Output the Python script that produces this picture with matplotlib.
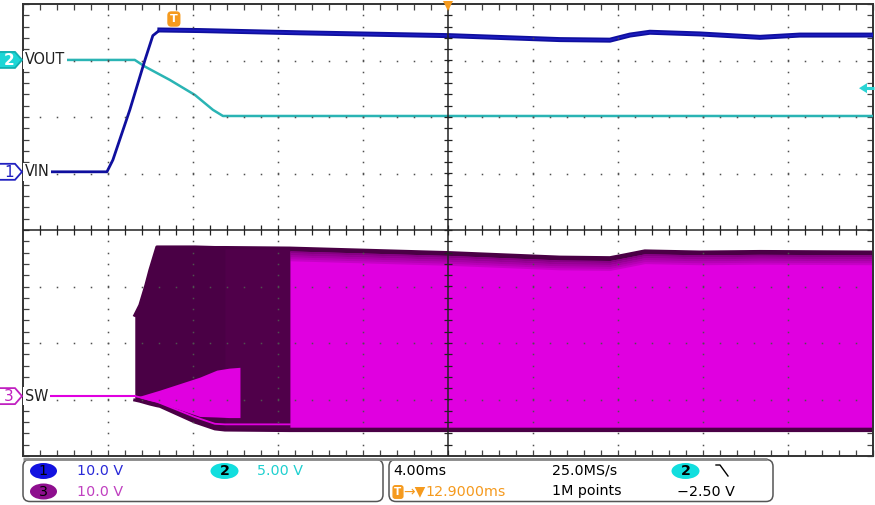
import numpy as np
import matplotlib
matplotlib.use("Agg")
import matplotlib.pyplot as plt
from matplotlib.patches import Polygon, FancyBboxPatch, Ellipse

# ---------------- data (time in ms relative to trigger, values in volts) ----------------
vin_t = [-7.11, -3.15, -2.87, -2.07, -1.36, -0.99, -0.66, 1.22, 5.93, 12.94, 18.16, 20.52,
         21.46, 22.40, 24.75, 27.58, 29.46, 32.89]
vin_v = [0.0, 0.0, 2.1, 11.0, 19.8, 24.1, 25.1, 25.0, 24.6, 24.1, 23.4, 23.3,
         24.2, 24.7, 24.4, 23.8, 24.2, 24.2]

vout_t = [-7.11, -1.84, -1.36, -0.19, 0.99, 1.84, 2.31, 32.89]
vout_v = [0.0, 0.0, -0.59, -1.77, -3.10, -4.42, -4.96, -4.96]

sw_idle_t = [-7.11, -1.84]
sw_idle_v = [0.0, 0.0]
sw_t = [-1.84, -1.60, -1.32, -1.13, -0.80, -0.66, 0.99, 1.93, 2.40, 5.46, 12.94, 18.16,
        20.52, 21.22, 22.16, 24.75, 27.58, 32.89]
sw_hi = [14.3, 16.1, 19.6, 22.3, 26.4, 26.4, 26.4, 26.3, 26.3, 26.2, 25.4, 24.6,
         24.5, 25.0, 25.7, 25.5, 25.6, 25.5]
sw_low = [0.0, -0.2, -0.5, -0.7, -1.0, -1.2, -3.7, -4.9, -5.0, -5.0, -5.0, -5.0,
          -5.0, -5.0, -5.0, -5.0, -5.0, -5.0]
sw_min = [-0.7, -0.9, -1.2, -1.4, -1.7, -1.8, -4.6, -5.8, -6.0, -6.1, -6.1, -6.1,
          -6.1, -6.1, -6.1, -6.1, -6.1, -6.1]
sw_cont_start = 5.46   # time where continuous switching starts (ms)

burst_t = [-1.60, -0.66, 1.22, 2.02, 2.60, 3.11]
burst_top = [0.0, 1.06, 3.36, 4.6, 4.95, 5.1]
burst_bot = [-0.3, -1.2, -3.6, -3.7, -3.8, -3.8]

# scope settings
ch1_scale, ch2_scale, ch3_scale = 10.0, 5.0, 10.0     # V/div
ch1_pos, ch2_pos, ch3_pos = 1.03, 3.01, -2.94         # div
time_div = 4.0                                        # ms/div
h_delay = 12.9                                        # ms
trig_level = -2.5                                     # V (ch2)

# ---------------- figure ----------------
W, H = 875, 505
L, R, T, B = 23, 873, 4, 456
fig = plt.figure(figsize=(W / 100, H / 100), dpi=100)
fig.patch.set_facecolor("white")
ax = fig.add_axes([L / W, 1 - B / H, (R - L) / W, (B - T) / H])
x0, x1 = h_delay - 5 * time_div, h_delay + 5 * time_div
ax.set_xlim(x0, x1)
ax.set_ylim(-4, 4)
ax.set_facecolor("white")

def d(v, scale, pos):
    return np.asarray(v, dtype=float) / scale + pos

def ypx(div):
    return T + (4 - div) * (B - T) / 8.0

BLUE = "#0f0f9e"
TEAL = "#2ab4b4"
MAG = "#e000e0"
DARK = "#4a0045"

# --- SW (channel 3)
t_sw = np.array(sw_t)
hi = d(sw_hi, ch3_scale, ch3_pos)
lo = d(sw_low, ch3_scale, ch3_pos)
mn = d(sw_min, ch3_scale, ch3_pos)
ax.fill_between(t_sw, mn, hi, color=DARK, lw=0, zorder=2)
ax.fill_between(t_sw, mn, hi, where=(t_sw >= 2.4) & (t_sw <= sw_cont_start),
                color="#50004a", lw=0, zorder=2.05)
cont = t_sw >= sw_cont_start
ax.fill_between(t_sw[cont], mn[cont] + 0.06, hi[cont] - 0.05, color=MAG, lw=0, zorder=2.1)
for k in range(5):
    a = 0.6 - 0.11 * k
    ax.fill_between(t_sw[cont], hi[cont] - 0.05 - 0.035 * k, hi[cont] - 0.05 - 0.035 * (k + 1),
                    color=DARK, alpha=a, lw=0, zorder=2.15)
bt = np.array(burst_t)
ax.fill_between(bt, d(burst_bot, ch3_scale, ch3_pos), d(burst_top, ch3_scale, ch3_pos),
                color=MAG, lw=0, zorder=2.2)
pre = t_sw <= sw_cont_start
ax.plot(t_sw[pre], lo[pre], color=MAG, lw=1.3, zorder=2.3)
ax.plot(t_sw, hi, color=DARK, lw=2.2, zorder=2.4)
ax.plot(t_sw, mn, color=DARK, lw=2.2, zorder=2.4)
ax.plot(sw_idle_t, d(sw_idle_v, ch3_scale, ch3_pos), color=MAG, lw=1.5, zorder=2.4)

# --- VOUT (channel 2)
ax.plot(vout_t, d(vout_v, ch2_scale, ch2_pos), color=TEAL, lw=1.8, zorder=3)

# --- VIN (channel 1)
vt = np.array(vin_t)
vv = d(vin_v, ch1_scale, ch1_pos)
ax.plot(vt, vv, color=BLUE, lw=2.0, zorder=3.1)
sel = vt >= -0.66
ax.plot(vt[sel], vv[sel], color=BLUE, lw=3.6, zorder=3.1)
ax.plot(vt[sel], vv[sel], color="#1c1cc0", lw=1.2, zorder=3.2)

# ---------------- graticule ----------------
GRID = "#505050"
xmaj = x0 + time_div * np.arange(0, 11)
xmin = x0 + time_div / 5 * np.arange(1, 50)
ymaj = np.arange(-4, 5)
ymin = np.arange(-4, 4.01, 0.2)[1:-1]
for yv in ymaj[1:-1]:
    if yv == 0:
        continue
    ax.plot(xmin, np.full_like(xmin, yv), ls="none", marker="s", ms=1.1, color=GRID, mew=0, zorder=5)
for xv in xmaj[1:-1]:
    if abs(xv - h_delay) < 1e-6:
        continue
    ax.plot(np.full_like(ymin, xv), ymin, ls="none", marker="s", ms=1.1, color=GRID, mew=0, zorder=5)
ax.axhline(0, color="#222222", lw=1.1, zorder=5)
ax.axvline(h_delay, color="#222222", lw=1.1, zorder=5)
ax.plot(xmin, np.zeros_like(xmin), ls="none", marker="|", ms=7, mew=0.9, color="#222222", zorder=5)
ax.plot(np.full_like(ymin, h_delay), ymin, ls="none", marker="_", ms=6, mew=0.9, color="#222222", zorder=5)

ax.set_xticks(xmaj)
ax.set_xticks(xmin, minor=True)
ax.set_yticks(ymaj)
ax.set_yticks(ymin, minor=True)
ax.tick_params(which="both", direction="in", top=True, right=True, bottom=True, left=True,
               labelbottom=False, labelleft=False, length=4, width=0.9, color="#444444")
for s in ax.spines.values():
    s.set_color("#333333")
    s.set_linewidth(1.4)

# trace labels
for txt, pos in [("VOUT", ch2_pos), ("VIN", ch1_pos), ("SW", ch3_pos)]:
    ax.text(0.002, pos, txt, transform=ax.get_yaxis_transform(), ha="left", va="center",
            fontsize=11.5, family="DejaVu Sans", fontstretch="condensed", color="#202020", zorder=10,
            bbox=dict(boxstyle="square,pad=0.1", fc="white", ec="none"))

# trigger marker "T"
ax.text(0.0, 4 - 15 / 56.5, "T", ha="center", va="center", fontsize=8, fontweight="bold",
        color="white", zorder=11,
        bbox=dict(boxstyle="round,pad=0.18,rounding_size=0.3", fc="#f59a1e", ec="#f59a1e"))
# horizontal position marker
ax.plot([h_delay], [4 - 1.5 / 56.5], marker="v", ms=7, color="#f59a1e", mew=0, clip_on=False, zorder=11)

# ---------------- overlay in pixel coordinates ----------------
ov = fig.add_axes([0, 0, 1, 1], zorder=10)
ov.set_xlim(0, W)
ov.set_ylim(H, 0)
ov.axis("off")
ov.patch.set_alpha(0)

# trigger level arrow (ch2)
ty = ypx(ch2_pos + trig_level / ch2_scale)
ov.plot([866, 874], [ty, ty], color="#2ad4d4", lw=2.2, solid_capstyle="butt")
ov.add_patch(Polygon([(859, ty), (867, ty - 5), (867, ty + 5)], closed=True, fc="#2ad4d4", ec="none"))

def chan_marker(yc, label, face, edge, tcol):
    verts = [(-2, yc - 8), (15, yc - 8), (22, yc), (15, yc + 8), (-2, yc + 8)]
    ov.add_patch(Polygon(verts, closed=True, fc=face, ec=edge, lw=1.3))
    ov.text(9, yc + 0.5, label, ha="center", va="center", fontsize=11, color=tcol,
            fontweight="bold" if face != "white" else "normal")

chan_marker(ypx(ch2_pos), "2", "#1cd6d6", "#10b0b0", "white")
chan_marker(ypx(ch1_pos), "1", "white", "#2020c0", "#2020c0")
chan_marker(ypx(ch3_pos), "3", "white", "#c020c0", "#c020c0")

# record bar under the screen
ov.plot([L, 767], [458.5, 458.5], color="#8a8a8a", lw=2.0, solid_capstyle="butt")

# status boxes
for (bx, bw) in [(23, 360), (389, 384)]:
    ov.add_patch(FancyBboxPatch((bx, 459.5), bw, 42, boxstyle="round,pad=0,rounding_size=7",
                                fc="white", ec="#555555", lw=1.1))

sfont = dict(fontsize=10.3, family="DejaVu Sans", va="center", ha="left")
r1, r2 = 471, 491.5
ov.add_patch(Ellipse((43.5, r1), 27, 16, fc="#1212e0", ec="none"))
ov.text(43.5, r1, "1", ha="center", va="center", fontsize=10.3, color="black")
ov.add_patch(Ellipse((43.5, r2), 27, 16, fc="#8e0e8e", ec="none"))
ov.text(43.5, r2, "3", ha="center", va="center", fontsize=10.3, color="black")
ov.add_patch(Ellipse((224.5, r1), 28, 16, fc="#12dede", ec="none"))
ov.text(224.5, r1, "2", ha="center", va="center", fontsize=10.3, color="black", fontweight="bold")
ov.text(77, r1, f"{ch1_scale:.1f} V", color="#2a2ad8", **sfont)
ov.text(77, r2, f"{ch3_scale:.1f} V", color="#c040c0", **sfont)
ov.text(257, r1, f"{ch2_scale:.2f} V", color="#20d0d0", **sfont)

ov.text(393, r1, f"{time_div:.2f}ms", color="black", **sfont)
ov.text(552, r1, "25.0MS/s", color="black", **sfont)
ov.text(552, r2, "1M points", color="black", **sfont)
ov.add_patch(Ellipse((685.5, r1), 28, 16, fc="#12dede", ec="none"))
ov.text(685.5, r1, "2", ha="center", va="center", fontsize=10.3, color="black", fontweight="bold")
ov.plot([716, 720, 728], [465, 465, 476], color="black", lw=1.0)
ov.text(677, r2, f"\u2212{abs(trig_level):.2f} V", color="black", **sfont)
ov.text(398, r2 + 0.5, "T", ha="center", va="center", fontsize=7.5, fontweight="bold", color="white",
        bbox=dict(boxstyle="round,pad=0.12,rounding_size=0.2", fc="#f59a1e", ec="#f59a1e"))
ov.text(403, r2, "\u2192\u25bc", color="#f59a1e", fontsize=10, family="DejaVu Sans", va="center", ha="left")
ov.text(425, r2, f"{h_delay:.4f}ms", color="#f59a1e", **sfont)

fig.savefig("out.png", dpi=100, facecolor="white")
